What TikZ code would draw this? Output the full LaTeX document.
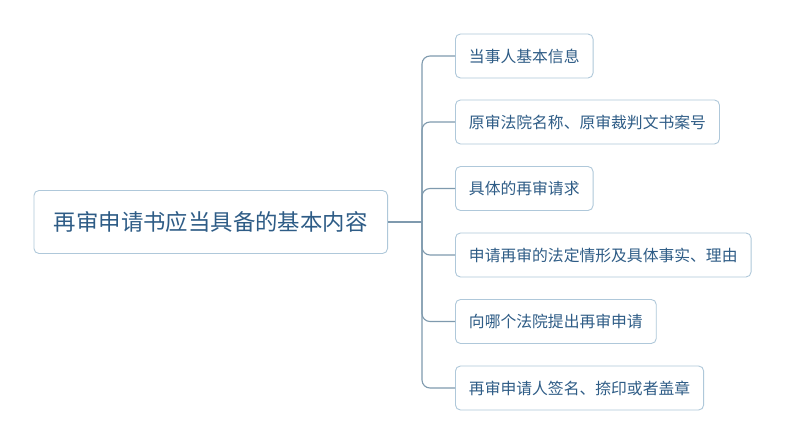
\documentclass[tikz,border=0pt]{standalone}
\usepackage{fontspec}
\setmainfont{Noto Sans CJK SC}
\definecolor{txt}{HTML}{2E5C86}
\definecolor{bord}{HTML}{AFC8DA}
\definecolor{conn}{HTML}{7F9AAE}
\begin{document}
\begin{tikzpicture}[x=1pt,y=1pt,
  rootbox/.style={draw=bord,line width=0.9pt,rounded corners=5pt,fill=white,text=txt,
    font=\fontsize{22.4}{25}\selectfont,inner xsep=20pt,minimum height=63pt,anchor=west},
  childbox/.style={draw=bord,line width=0.9pt,rounded corners=5pt,fill=white,text=txt,
    font=\fontsize{15.8}{18}\selectfont,inner xsep=13.5pt,minimum height=44pt,anchor=west},
  link/.style={draw=conn,line width=1.1pt,rounded corners=8pt}]
\useasboundingbox (0,0) rectangle (786,444);
\fill[white] (0,0) rectangle (786,444);
\node[rootbox] (root) at (33.5,222) {再审申请书应当具备的基本内容};
\node[childbox] (c1) at (455,388) {当事人基本信息};
\node[childbox] (c2) at (455,322) {原审法院名称、原审裁判文书案号};
\node[childbox] (c3) at (455,255.5) {具体的再审请求};
\node[childbox] (c4) at (455,189) {申请再审的法定情形及具体事实、理由};
\node[childbox] (c5) at (455,122.5) {向哪个法院提出再审申请};
\node[childbox] (c6) at (455,56) {再审申请人签名、捺印或者盖章};
\coordinate (j) at (422,222);
\draw[link] (root.east) -- (j);
\foreach \c in {c1,c2,c3,c4,c5,c6} \draw[link] (j) |- (\c.west);
\end{tikzpicture}
\end{document}
